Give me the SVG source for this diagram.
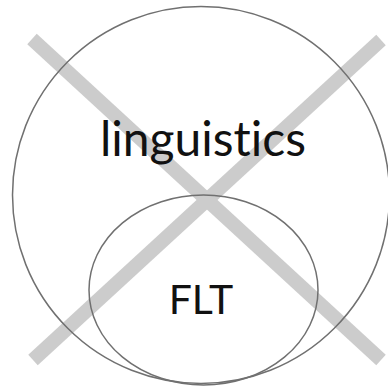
<svg xmlns="http://www.w3.org/2000/svg" width="388" height="388" viewBox="0 0 388 388">
<style>
.set{fill:none;stroke:#707070;stroke-width:1.5}
.lbl{font-family:Lato,"Noto Sans",sans-serif;fill:#111;text-anchor:middle;font-variant-ligatures:none;font-feature-settings:"liga" 0,"dlig" 0}
.cross{stroke:#cccccc;stroke-width:14;stroke-linecap:butt}
</style>
<rect width="388" height="388" fill="#fff"/>
<g id="connectors">
<line class="cross" x1="32" y1="39" x2="381" y2="360"/>
<line class="cross" x1="381" y1="40" x2="33" y2="360"/>
</g>
<g id="linguistics">
<circle class="set" cx="201" cy="195" r="188.5"/>
<text class="lbl" x="203" y="156" font-size="48">linguistics</text>
</g>
<g id="FLT">
<ellipse class="set" cx="203.5" cy="290" rx="114.5" ry="95"/>
<text class="lbl" x="201" y="314" font-size="41">FLT</text>
</g>
</svg>
